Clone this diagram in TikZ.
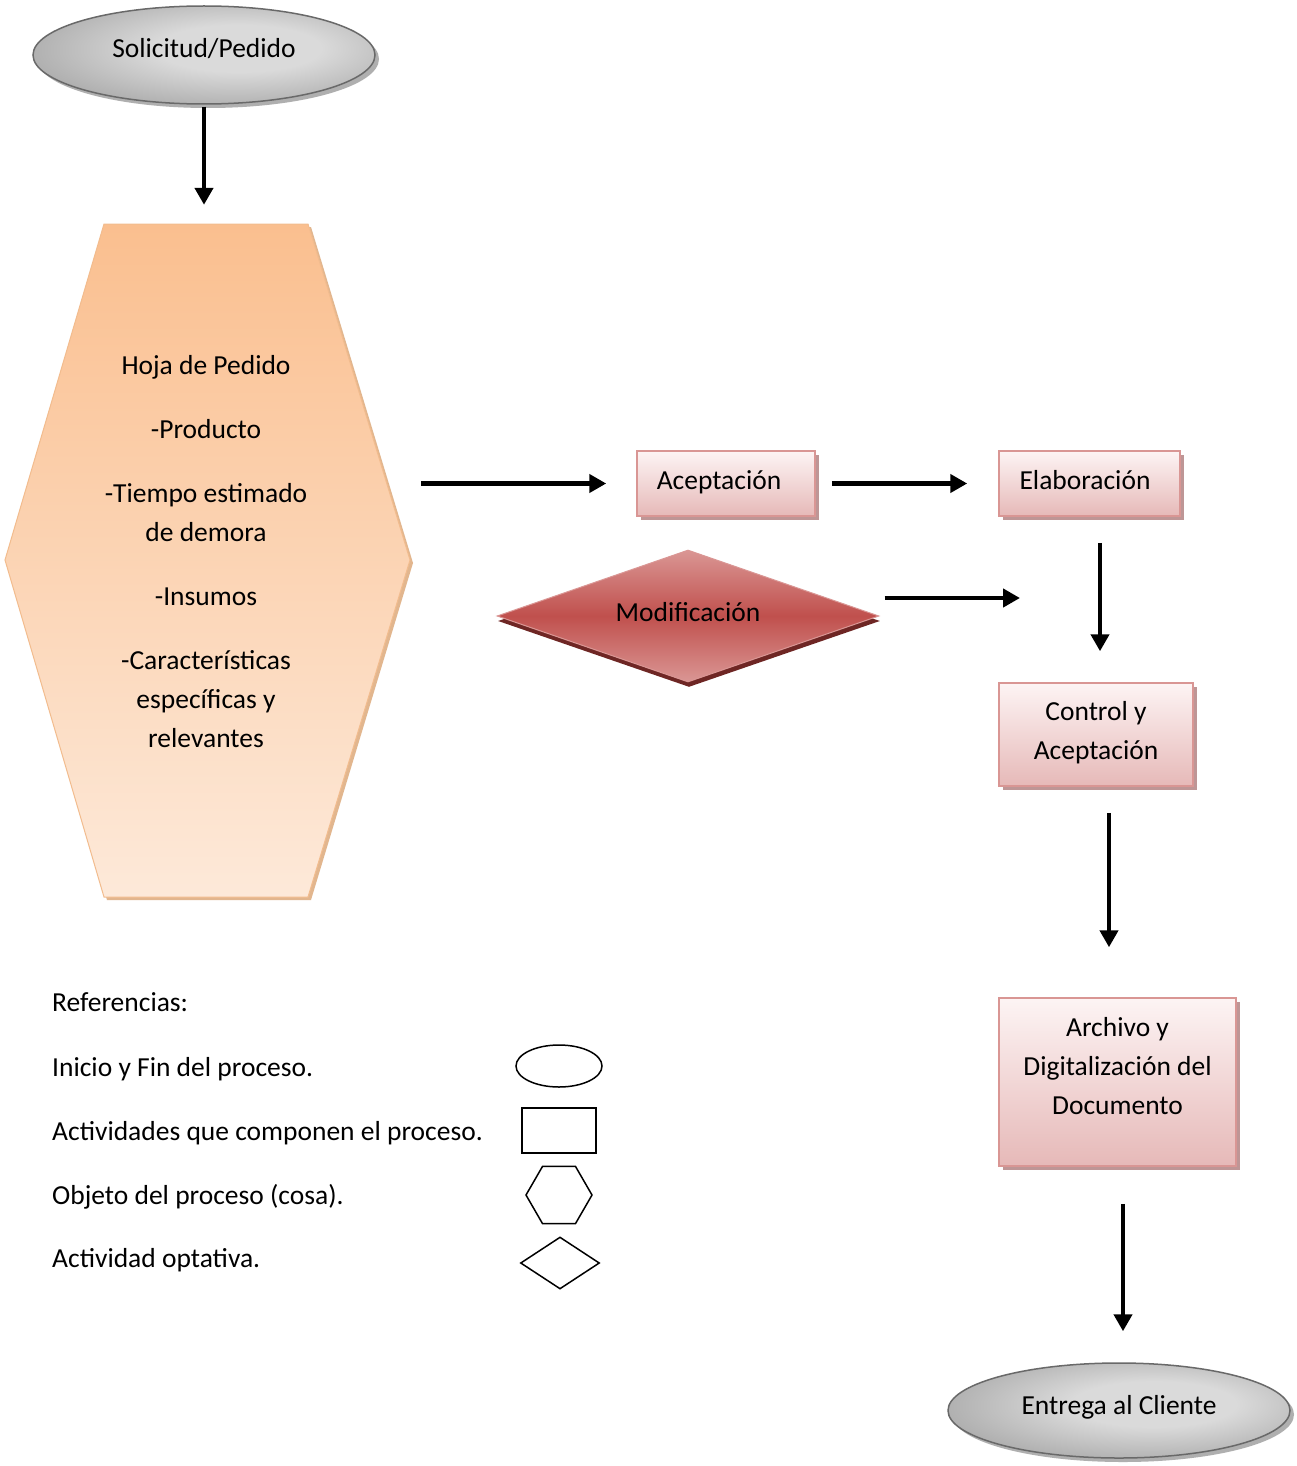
\documentclass[tikz,border=0pt]{standalone}
\usepackage{fontspec}
\setmainfont{Carlito}
\usetikzlibrary{shapes.geometric,shadows,arrows.meta}

% palette
\definecolor{ovalin}{RGB}{218,218,218}
\definecolor{ovalout}{RGB}{125,125,125}
\definecolor{ovaledge}{RGB}{105,105,105}
\definecolor{ovalshadow}{RGB}{175,175,175}
\definecolor{sheettop}{RGB}{250,191,143}
\definecolor{sheetbot}{RGB}{253,233,217}
\definecolor{sheetedge}{RGB}{242,188,142}
\definecolor{sheetshadow}{RGB}{226,182,142}
\definecolor{boxtop}{RGB}{253,244,244}
\definecolor{boxbot}{RGB}{230,185,184}
\definecolor{boxedge}{RGB}{217,150,148}
\definecolor{boxshadow}{RGB}{190,150,150}
\definecolor{optmid}{RGB}{192,80,77}
\definecolor{optlight}{RGB}{218,150,148}
\definecolor{optshadow}{RGB}{110,38,36}

\pgfdeclareradialshading{ovalshade}{\pgfpoint{6bp}{4bp}}{%
  color(0bp)=(ovalin); color(12bp)=(ovalin); color(50bp)=(ovalout); color(80bp)=(ovalout)}

\begin{document}
\begin{tikzpicture}[x=1pt,y=-1pt,
  every node/.style={font=\fontsize{27.5pt}{39pt}\selectfont, inner sep=0pt},
  oval/.style={ellipse, draw=ovaledge, line width=1.5pt, shading=ovalshade,
    minimum width=342pt, minimum height=98pt,
    drop shadow={shadow xshift=4pt, shadow yshift=-4pt, fill=ovalshadow, opacity=1}},
  task/.style={rectangle, draw=boxedge, line width=1.5pt, top color=boxtop, bottom color=boxbot,
    drop shadow={shadow xshift=4pt, shadow yshift=-4pt, fill=boxshadow, opacity=1}},
  opt/.style={diamond, aspect=2.9, draw=optlight, line width=1pt,
    top color=optlight, bottom color=optlight, middle color=optmid,
    minimum width=382pt, minimum height=132pt,
    drop shadow={shadow xshift=1pt, shadow yshift=-5pt, fill=optshadow, opacity=1}},
  lbl/.style={align=center},
  flow/.style={line width=4.5pt, -{Triangle[length=17pt,width=18pt]}},
  legtext/.style={anchor=west},
  legshape/.style={draw=black, line width=1.5pt, fill=white},
]
\useasboundingbox (0,0) rectangle (1296,1466);
\fill[white] (0,0) rectangle (1296,1466);

% order sheet (hexagon)
\path (104,224) coordinate (h1) (308,224) coordinate (h2) (410,560) coordinate (h3)
      (308,897) coordinate (h4) (104,897) coordinate (h5) (5,560) coordinate (h6);
\fill[sheetshadow] ([shift={(3,3)}]h1) -- ([shift={(3,3)}]h2) -- ([shift={(3,3)}]h3)
  -- ([shift={(3,3)}]h4) -- ([shift={(3,3)}]h5) -- ([shift={(3,3)}]h6) -- cycle;
\draw[draw=sheetedge, line width=1pt, top color=sheettop, bottom color=sheetbot]
  (h1) -- (h2) -- (h3) -- (h4) -- (h5) -- (h6) -- cycle;
\node[minimum width=405pt, minimum height=673pt] (hex) at (207.5,560.5) {};
\node[lbl] (hexT) at (206,552) {Hoja de Pedido\\[25pt]-Producto\\[25pt]-Tiempo estimado\\de demora\\[25pt]-Insumos\\[25pt]-Características\\específicas y\\relevantes};

% process nodes
\node[oval] (sol) at (204,55) {};
\node[task, minimum width=178pt, minimum height=65pt] (acc) at (726,483.5) {};
\node[task, minimum width=181pt, minimum height=65pt] (ela) at (1089.5,483.5) {};
\node[opt] (mod) at (688,616) {};
\node[task, minimum width=194pt, minimum height=103pt] (ctl) at (1096,734.5) {};
\node[task, minimum width=237pt, minimum height=168pt] (arc) at (1117.5,1082) {};
\node[oval, minimum height=95pt] (ent) at (1119,1410.5) {};
\coordinate (modend) at (1020,598);

% node texts
\node[lbl] (solT) at ([yshift=6pt]sol.center) {Solicitud/Pedido};
\node[lbl] (accT) at ([shift={(-7pt,1pt)}]acc.center) {Aceptación};
\node[lbl] (elaT) at ([shift={(-4.5pt,3pt)}]ela.center) {Elaboración};
\node[lbl] (modT) at ([yshift=4pt]mod.center) {Modificación};
\node[lbl] (ctlT) at ([yshift=2pt]ctl.center) {Control y\\Aceptación};
\node[lbl] (arcT) at ([yshift=16pt]arc.center) {Archivo y\\Digitalización del\\Documento};
\node[lbl] (entT) at ([yshift=3pt]ent.center) {Entrega al Cliente};

% connectors
\draw[flow, shorten <=2pt, shorten >=19pt] (sol.south) -- (sol.south |- hex.north);
\draw[flow, shorten <=11pt, shorten >=30pt] (hex.east |- acc.west) -- (acc.west);
\draw[flow, shorten <=16pt, shorten >=31pt] (acc.east) -- (ela.west);
\draw[flow, shorten <=26pt, shorten >=31pt] ([xshift=10.5pt]ela.south) -- ([xshift=10.5pt]ela.south |- ctl.north);
\draw[flow, shorten <=5pt] (mod.east |- modend) -- (modend);
\draw[flow, shorten <=26pt, shorten >=50pt] ([xshift=13pt]ctl.south) -- ([xshift=13pt]ctl.south |- arc.north);
\draw[flow, shorten <=37pt, shorten >=31pt] ([xshift=5.5pt]arc.south) -- ([xshift=5.5pt]arc.south |- ent.north);

% legend
\node[legtext] (ref) at (52,1002) {Referencias:};
\node[legtext] (refE) at (52,1069) {Inicio y Fin del proceso.};
\node[legtext] (refR) at (52,1133) {Actividades que componen el proceso.};
\node[legtext] (refH) at (52,1197) {Objeto del proceso (cosa).};
\node[legtext] (refD) at (52,1260) {Actividad optativa.};
\node[legshape, ellipse, minimum width=86pt, minimum height=42pt] (lgE) at (559,1066) {};
\node[legshape, rectangle, minimum width=74pt, minimum height=45pt] (lgR) at (559,1130.5) {};
\node[legshape, regular polygon, regular polygon sides=6, minimum size=66pt] (lgH) at (559,1195) {};
\node[legshape, diamond, aspect=1.5, minimum width=79pt, minimum height=52pt] (lgD) at (560,1263) {};
\end{tikzpicture}
\end{document}
